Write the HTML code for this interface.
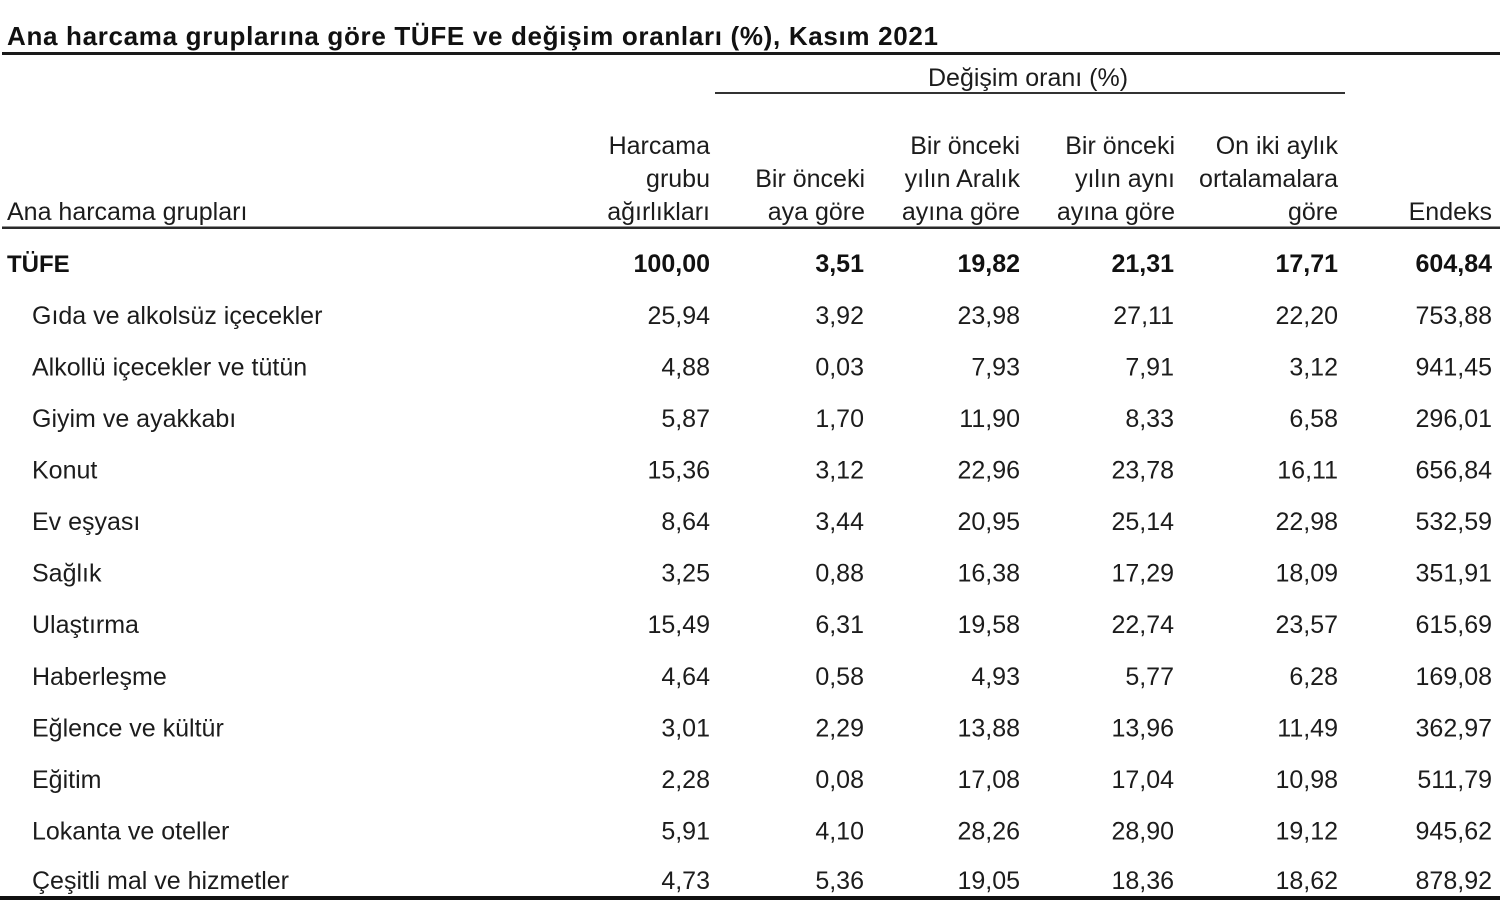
<!DOCTYPE html>
<html>
<head>
<meta charset="utf-8">
<style>
  html,body{margin:0;padding:0;background:#fff;}
  body{width:1500px;height:900px;overflow:hidden;}
  svg{display:block;}
  text{font-family:"Liberation Sans", Arial, sans-serif;fill:#1c1c1c;}
  .r{font-size:25px;}
  .b{font-size:25px;font-weight:bold;fill:#111;}
  .e{text-anchor:end;}
</style>
</head>
<body>
<svg width="1500" height="900" viewBox="0 0 1500 900" xmlns="http://www.w3.org/2000/svg">
  <rect width="1500" height="900" fill="#fff"/>
  <!-- Title -->
  <text x="7" y="45" font-size="26" font-weight="bold" textLength="931" lengthAdjust="spacing" style="fill:#111">Ana harcama gruplarına göre TÜFE ve değişim oranları (%), Kasım 2021</text>
  <rect x="2" y="52" width="1498" height="3" fill="#1a1a1a"/>

  <!-- Değişim oranı header -->
  <text class="r" x="928" y="86">Değişim oranı (%)</text>
  <rect x="715" y="92" width="630" height="2" fill="#333"/>

  <!-- Column headers -->
  <text class="r" x="7" y="220">Ana harcama grupları</text>

  <text class="r e" x="710" y="154">Harcama</text>
  <text class="r e" x="710" y="187">grubu</text>
  <text class="r e" x="710" y="220">ağırlıkları</text>

  <text class="r e" x="865" y="187">Bir önceki</text>
  <text class="r e" x="865" y="220">aya göre</text>

  <text class="r e" x="1020" y="154">Bir önceki</text>
  <text class="r e" x="1020" y="187">yılın Aralık</text>
  <text class="r e" x="1020" y="220">ayına göre</text>

  <text class="r e" x="1175" y="154">Bir önceki</text>
  <text class="r e" x="1175" y="187">yılın aynı</text>
  <text class="r e" x="1175" y="220">ayına göre</text>

  <text class="r e" x="1338" y="154">On iki aylık</text>
  <text class="r e" x="1338" y="187">ortalamalara</text>
  <text class="r e" x="1338" y="220">göre</text>

  <text class="r e" x="1492" y="220">Endeks</text>

  <rect x="2" y="226.5" width="1498" height="2.5" fill="#2a2a2a"/>

  <!-- TÜFE row -->
  <text x="7" y="272" font-size="24" font-weight="bold" style="fill:#111">TÜFE</text>
  <text class="b e" x="710" y="272">100,00</text>
  <text class="b e" x="864" y="272">3,51</text>
  <text class="b e" x="1020" y="272">19,82</text>
  <text class="b e" x="1174" y="272">21,31</text>
  <text class="b e" x="1338" y="272">17,71</text>
  <text class="b e" x="1492" y="272">604,84</text>

  <!-- Data rows -->
  <g class="r">
    <text x="32" y="324">Gıda ve alkolsüz içecekler</text>
    <text class="e" x="710" y="324">25,94</text>
    <text class="e" x="864" y="324">3,92</text>
    <text class="e" x="1020" y="324">23,98</text>
    <text class="e" x="1174" y="324">27,11</text>
    <text class="e" x="1338" y="324">22,20</text>
    <text class="e" x="1492" y="324">753,88</text>

    <text x="32" y="375.5">Alkollü içecekler ve tütün</text>
    <text class="e" x="710" y="375.5">4,88</text>
    <text class="e" x="864" y="375.5">0,03</text>
    <text class="e" x="1020" y="375.5">7,93</text>
    <text class="e" x="1174" y="375.5">7,91</text>
    <text class="e" x="1338" y="375.5">3,12</text>
    <text class="e" x="1492" y="375.5">941,45</text>

    <text x="32" y="427">Giyim ve ayakkabı</text>
    <text class="e" x="710" y="427">5,87</text>
    <text class="e" x="864" y="427">1,70</text>
    <text class="e" x="1020" y="427">11,90</text>
    <text class="e" x="1174" y="427">8,33</text>
    <text class="e" x="1338" y="427">6,58</text>
    <text class="e" x="1492" y="427">296,01</text>

    <text x="32" y="478.5">Konut</text>
    <text class="e" x="710" y="478.5">15,36</text>
    <text class="e" x="864" y="478.5">3,12</text>
    <text class="e" x="1020" y="478.5">22,96</text>
    <text class="e" x="1174" y="478.5">23,78</text>
    <text class="e" x="1338" y="478.5">16,11</text>
    <text class="e" x="1492" y="478.5">656,84</text>

    <text x="32" y="530">Ev eşyası</text>
    <text class="e" x="710" y="530">8,64</text>
    <text class="e" x="864" y="530">3,44</text>
    <text class="e" x="1020" y="530">20,95</text>
    <text class="e" x="1174" y="530">25,14</text>
    <text class="e" x="1338" y="530">22,98</text>
    <text class="e" x="1492" y="530">532,59</text>

    <text x="32" y="581.6">Sağlık</text>
    <text class="e" x="710" y="581.6">3,25</text>
    <text class="e" x="864" y="581.6">0,88</text>
    <text class="e" x="1020" y="581.6">16,38</text>
    <text class="e" x="1174" y="581.6">17,29</text>
    <text class="e" x="1338" y="581.6">18,09</text>
    <text class="e" x="1492" y="581.6">351,91</text>

    <text x="32" y="633.2">Ulaştırma</text>
    <text class="e" x="710" y="633.2">15,49</text>
    <text class="e" x="864" y="633.2">6,31</text>
    <text class="e" x="1020" y="633.2">19,58</text>
    <text class="e" x="1174" y="633.2">22,74</text>
    <text class="e" x="1338" y="633.2">23,57</text>
    <text class="e" x="1492" y="633.2">615,69</text>

    <text x="32" y="684.8">Haberleşme</text>
    <text class="e" x="710" y="684.8">4,64</text>
    <text class="e" x="864" y="684.8">0,58</text>
    <text class="e" x="1020" y="684.8">4,93</text>
    <text class="e" x="1174" y="684.8">5,77</text>
    <text class="e" x="1338" y="684.8">6,28</text>
    <text class="e" x="1492" y="684.8">169,08</text>

    <text x="32" y="736.4">Eğlence ve kültür</text>
    <text class="e" x="710" y="736.4">3,01</text>
    <text class="e" x="864" y="736.4">2,29</text>
    <text class="e" x="1020" y="736.4">13,88</text>
    <text class="e" x="1174" y="736.4">13,96</text>
    <text class="e" x="1338" y="736.4">11,49</text>
    <text class="e" x="1492" y="736.4">362,97</text>

    <text x="32" y="788">Eğitim</text>
    <text class="e" x="710" y="788">2,28</text>
    <text class="e" x="864" y="788">0,08</text>
    <text class="e" x="1020" y="788">17,08</text>
    <text class="e" x="1174" y="788">17,04</text>
    <text class="e" x="1338" y="788">10,98</text>
    <text class="e" x="1492" y="788">511,79</text>

    <text x="32" y="839.6">Lokanta ve oteller</text>
    <text class="e" x="710" y="839.6">5,91</text>
    <text class="e" x="864" y="839.6">4,10</text>
    <text class="e" x="1020" y="839.6">28,26</text>
    <text class="e" x="1174" y="839.6">28,90</text>
    <text class="e" x="1338" y="839.6">19,12</text>
    <text class="e" x="1492" y="839.6">945,62</text>

    <text x="32" y="889">Çeşitli mal ve hizmetler</text>
    <text class="e" x="710" y="889">4,73</text>
    <text class="e" x="864" y="889">5,36</text>
    <text class="e" x="1020" y="889">19,05</text>
    <text class="e" x="1174" y="889">18,36</text>
    <text class="e" x="1338" y="889">18,62</text>
    <text class="e" x="1492" y="889">878,92</text>
  </g>

  <rect x="0" y="896" width="1500" height="4" fill="#111"/>
</svg>
</body>
</html>
